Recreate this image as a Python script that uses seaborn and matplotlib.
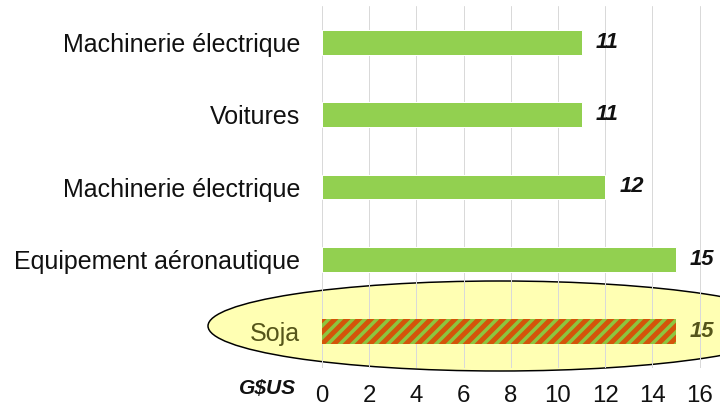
import matplotlib

matplotlib.use("Agg")

import numpy as np
import pandas as pd
import matplotlib.pyplot as plt
import seaborn as sns
from matplotlib.patches import Ellipse

# data (top to bottom)
labels = [
    "Machinerie électrique",
    "Voitures",
    "Machinerie électrique",
    "Equipement aéronautique",
    "Soja",
]
values = [11, 11, 12, 15, 15]
ticks = [0, 2, 4, 6, 8, 10, 12, 14, 16]
unit = "G$US"

green = "#92d050"
orange = "#d4540a"
stripe = "#8cc63f"
olive = "#55551a"

sns.set_theme(style="white")
plt.rcParams["font.family"] = ["Liberation Sans", "DejaVu Sans"]
plt.rcParams["hatch.linewidth"] = 3.5

# dpi 72 so points and pixels are the same
fig = plt.figure(figsize=(10, 410 / 72), dpi=72)
ax = fig.add_axes([322 / 720, 1 - 368 / 410, 1 - 322 / 720, (368 - 6) / 410])
ax.set_facecolor("none")

df = pd.DataFrame({"pos": np.arange(len(labels)), "value": values})
sns.barplot(
    data=df,
    x="value",
    y="pos",
    orient="h",
    hue="pos",
    palette=[green] * 4 + [orange],
    legend=False,
    width=0.34,
    saturation=1,
    ax=ax,
)

# soja bar is striped
soja = ax.patches[-1]
soja.set_hatch("//")
soja.set_edgecolor(stripe)
soja.set_linewidth(0)

ax.set_xlim(0, (720 - 322) / 23.6)
ax.set_ylim(len(labels) - 0.5, -0.5)
ax.set_xticks(ticks)
ax.set_xticklabels([str(t) for t in ticks], fontsize=24, color="#111111")
ax.set_yticks(range(len(labels)))
ax.set_yticklabels(labels, fontsize=25, color="#111111")
ax.get_yticklabels()[-1].set_color(olive)
ax.tick_params(axis="both", length=0)
ax.tick_params(axis="x", pad=17)
ax.tick_params(axis="y", pad=22)
ax.set_xlabel("")
ax.set_ylabel("")
ax.grid(axis="x", color="#d9d9d9", linewidth=1)
ax.set_axisbelow(True)
for s in ax.spines.values():
    s.set_visible(False)

for i, v in enumerate(values):
    ax.annotate(
        str(v),
        xy=(v, i),
        xytext=(14, 0),
        textcoords="offset points",
        va="center",
        ha="left",
        fontsize=22,
        fontweight="bold",
        fontstyle="italic",
        color=olive if i == len(values) - 1 else "#111111",
        annotation_clip=False,
    )

fig.text(
    268 / 720,
    1 - 389 / 410,
    unit,
    ha="center",
    va="center",
    fontsize=21,
    fontweight="bold",
    fontstyle="italic",
    color="#111111",
)

# highlight ellipse around the soja row
ell = Ellipse(
    (500 / 720, 1 - 326 / 410),
    2 * 292 / 720,
    2 * 45 / 410,
    transform=fig.transFigure,
    facecolor="#ffffb3",
    edgecolor="black",
    linewidth=1.5,
    zorder=-1,
)
fig.add_artist(ell)

fig.savefig("out.png", dpi=72)
